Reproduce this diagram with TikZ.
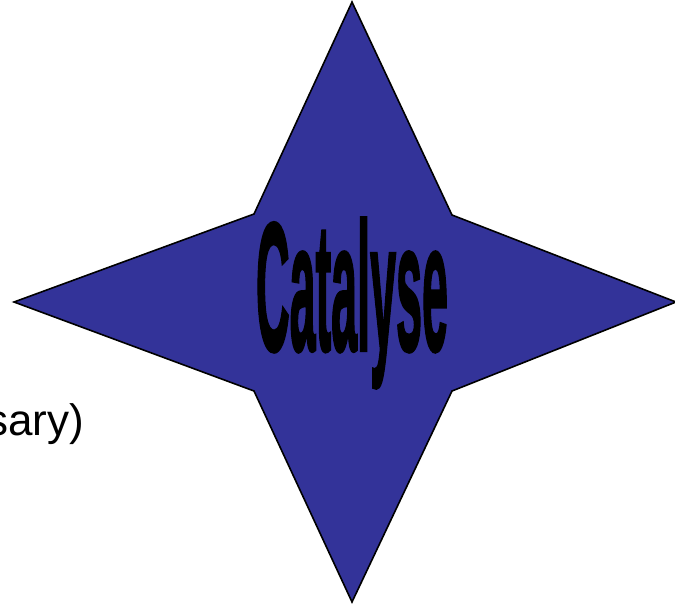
\documentclass[tikz,border=0pt]{standalone}
\usepackage{fontspec}
\setmainfont{Liberation Sans}
\newfontfamily\catfont{Liberation Sans}[BoldFont={Liberation Sans Bold},BoldFeatures={FakeBold=2}]
\usepackage{graphicx}
\usepackage{xcolor}
\definecolor{starblue}{HTML}{333399}
\usetikzlibrary{positioning}

\begin{document}
\begin{tikzpicture}[x=1pt, y=-1pt,
      star/.style={draw=black, line width=1.6pt, line join=miter, fill=starblue},
      title/.style={inner sep=0pt, text=black},
      side/.style={inner sep=0pt, font=\fontsize{44}{50}\selectfont}
    ]
    \useasboundingbox (0,0) rectangle (675,603);
    % star points
    \coordinate (top) at (352,2);
    \coordinate (ur) at (452,215);
    \coordinate (right) at (676,302);
    \coordinate (lr) at (452,391);
    \coordinate (bottom) at (352,602);
    \coordinate (ll) at (254,391);
    \coordinate (left) at (14,302);
    \coordinate (ul) at (254,214);
    \draw[star] (top) -- (ur) -- (right) -- (lr) -- (bottom) -- (ll) -- (left) -- (ul) -- cycle;
    \node[title] (catalyse) at (352,303) {\resizebox*{192pt}{170pt}{\catfont\bfseries Catalyse}};
    \node[side, anchor=base east] (note) at (84,435) {ssary)};
  \end{tikzpicture}
\end{document}
